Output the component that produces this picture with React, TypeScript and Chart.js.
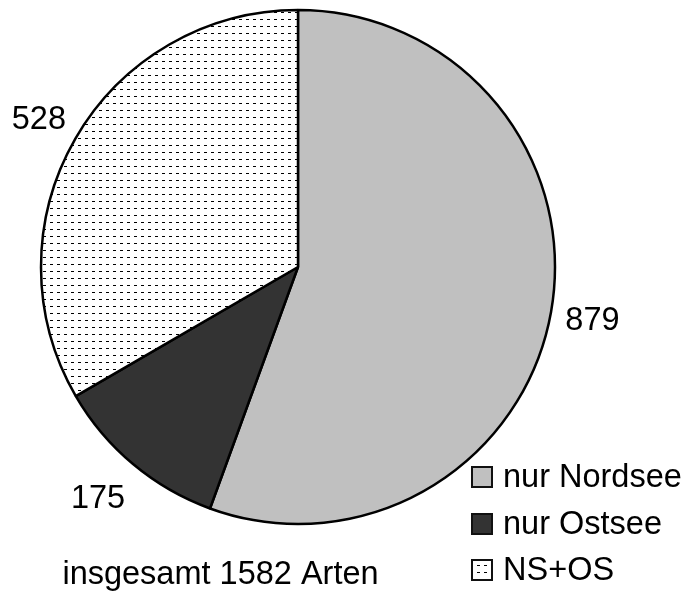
import React, { useEffect, useRef } from "react";
import { Chart, registerables } from "chart.js";

Chart.register(...registerables);

const categories = ["nur Nordsee", "nur Ostsee", "NS+OS"];
const values = [879, 175, 528];
const valueLabels = ["879", "175", "528"];
const footerText = "insgesamt 1582 Arten";

const FONT = '32.5px "Liberation Sans", Arial, sans-serif';

function makePattern(): CanvasPattern | string {
  const c = document.createElement("canvas");
  c.width = 7;
  c.height = 7;
  const g = c.getContext("2d");
  if (!g) return "#ffffff";
  g.fillStyle = "#ffffff";
  g.fillRect(0, 0, 7, 7);
  g.fillStyle = "#000000";
  g.fillRect(1, 5, 3, 1);
  const p = g.createPattern(c, "repeat");
  return p || "#ffffff";
}

export default function App() {
  const ref = useRef<HTMLCanvasElement | null>(null);

  useEffect(() => {
    const canvas = ref.current;
    if (!canvas) return;
    const pattern = makePattern();
    const colors: any[] = ["#c0c0c0", "#333333", pattern];

    const overlay = {
      id: "overlay",
      afterDraw(chart: any) {
        const ctx = chart.ctx;
        const meta = chart.getDatasetMeta(0);
        ctx.save();
        ctx.font = FONT;
        ctx.fillStyle = "#000000";
        ctx.textAlign = "center";
        ctx.textBaseline = "alphabetic";
        meta.data.forEach((arc: any, i: number) => {
          const p = arc.getProps(["x", "y", "startAngle", "endAngle", "outerRadius"], true);
          const mid = (p.startAngle + p.endAngle) / 2;
          const r = p.outerRadius + 42;
          const x = p.x + Math.cos(mid) * r;
          const y = p.y + Math.sin(mid) * r;
          ctx.fillText(valueLabels[i], x - (Math.cos(mid) < -0.5 && Math.sin(mid) > 0 ? 8 : 0), y + 11.5);
        });
        // footer text
        ctx.fillText(footerText, 220.5, 584);
        // legend
        ctx.textAlign = "left";
        const boxX = 472;
        const baselines = [487, 534, 580];
        categories.forEach((label, i) => {
          const b = baselines[i];
          ctx.fillStyle = colors[i];
          ctx.fillRect(boxX, b - 20, 20, 20);
          ctx.lineWidth = 2;
          ctx.strokeStyle = "#111111";
          ctx.strokeRect(boxX, b - 20, 20, 20);
          ctx.fillStyle = "#000000";
          ctx.fillText(label, 503, b);
        });
        ctx.restore();
      },
    };

    const chart = new Chart(canvas, {
      type: "pie",
      data: {
        labels: categories,
        datasets: [
          {
            data: values,
            backgroundColor: colors,
            borderColor: "#000000",
            borderWidth: 2.5,
            hoverOffset: 0,
          },
        ],
      },
      options: {
        animation: false,
        responsive: false,
        devicePixelRatio: 1,
        radius: 257,
        layout: { padding: { left: 0, right: 91, top: 0, bottom: 57 } },
        plugins: {
          legend: { display: false },
          tooltip: { enabled: false },
          title: { display: false },
        },
      } as any,
      plugins: [overlay],
    });
    return () => chart.destroy();
  }, []);

  return (
    <div
      style={{
        position: "fixed",
        left: 0,
        top: 0,
        width: 687,
        height: 591,
        background: "#ffffff",
      }}
    >
      <canvas ref={ref} width={687} height={591} style={{ display: "block" }} />
    </div>
  );
}
